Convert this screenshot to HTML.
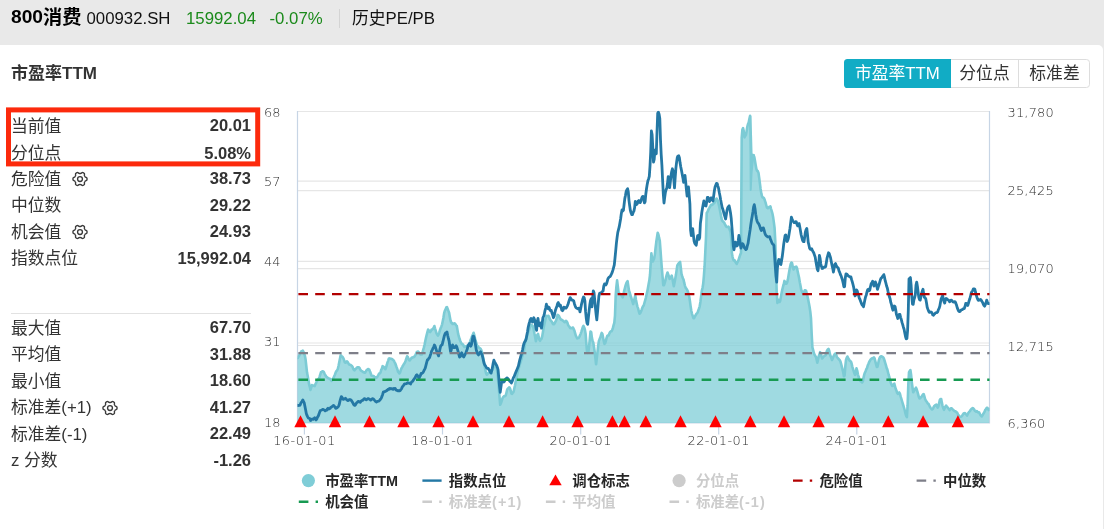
<!DOCTYPE html>
<html lang="zh-CN"><head><meta charset="utf-8"><title>800消费 历史PE/PB</title>
<style>
html,body{margin:0;padding:0}
body{width:1104px;height:529px;overflow:hidden;background:#e9e9e9;position:relative;font-family:"Liberation Sans","Noto Sans CJK SC",sans-serif;color:#333}
.hd{position:absolute;left:0;top:0;width:1104px;height:45px}
.hd span{position:absolute;white-space:nowrap;line-height:20px}
.t1{left:11px;top:7px;font-size:19.2px;font-weight:bold;color:#000}
.t2{left:86.5px;top:9px;font-size:16.8px;color:#111}
.t3{left:186px;top:9px;font-size:16.8px;color:#1b8a1b}
.t4{left:269.5px;top:9px;font-size:16.8px;color:#1b8a1b}
.cj{position:relative;top:1.4px;font-weight:bold}
.sep{position:absolute;left:339px;top:9px;width:1px;height:19px;background:#d4d4d4}
.t5{left:352px;top:9px;font-size:16.8px;color:#111}
.panel{position:absolute;left:-6px;top:44.8px;width:1109.4px;height:500px;background:#fff;border-radius:5px}
.title{position:absolute;left:11px;top:62.8px;font-size:17px;font-weight:bold;line-height:22px;color:#333;white-space:nowrap}
.btns{position:absolute;left:844px;top:59px;height:29px;width:245.6px;box-sizing:border-box;border:1.2px solid #ddd;border-radius:3.6px;background:#fff}
.btns span{position:absolute;top:-1.2px;height:29px;line-height:29.4px;font-size:16.8px;text-align:center;color:#333;white-space:nowrap}
.b1{left:-1.2px;width:107px;background:#11acc5;color:#fff!important;border-radius:3.6px 0 0 3.6px}
.b2{left:106px;width:68px;border-right:1.2px solid #ddd;box-sizing:border-box}
.b3{left:174px;width:71px}
.row{position:absolute;left:11px;width:240px;height:26.4px;line-height:26.4px;font-size:16.8px;white-space:nowrap}
.row .l{position:absolute;left:0;top:0;color:#333}
.row .v{position:absolute;right:0;top:-1.6px;font-weight:bold;color:#333;font-size:16.5px}
.gear{display:inline-block;vertical-align:-2.5px;margin-left:10.5px}
.hr{position:absolute;left:11px;top:313px;width:240px;height:1px;background:#e2e2e2}
.redbox{position:absolute;left:6px;top:107.4px;width:254.2px;height:59px;box-sizing:border-box;border:4.9px solid #fc2a0c}
</style></head><body>
<div class="hd"><span class="t1">800<b class="cj">消费</b></span><span class="t2">000932.SH</span><span class="t3">15992.04</span><span class="t4">-0.07%</span><i class="sep"></i><span class="t5">历史PE/PB</span></div>
<div class="panel"></div>
<div class="title">市盈率TTM</div>
<div class="btns"><span class="b1">市盈率TTM</span><span class="b2">分位点</span><span class="b3">标准差</span></div>
<div class="row" style="top:114.0px"><span class="l">当前值</span><span class="v">20.01</span></div><div class="row" style="top:141.4px"><span class="l">分位点</span><span class="v">5.08%</span></div><div class="row" style="top:166.9px"><span class="l">危险值<svg class="gear" viewBox="0 0 16 16" width="16" height="16"><g fill="none" stroke="#3a3a3a" stroke-width="1.35" stroke-linejoin="round"><path d="M15.05 8.00 L15.01 8.61 L14.81 9.20 L14.09 9.63 L13.34 9.94 L13.04 10.35 L12.81 10.77 L12.56 11.19 L12.35 11.65 L12.45 12.45 L12.45 13.30 L12.04 13.76 L11.53 14.11 L10.97 14.38 L10.37 14.50 L9.63 14.09 L8.99 13.60 L8.48 13.54 L8.00 13.55 L7.52 13.54 L7.01 13.60 L6.37 14.09 L5.63 14.50 L5.03 14.38 L4.48 14.11 L3.96 13.76 L3.55 13.30 L3.55 12.45 L3.65 11.65 L3.44 11.19 L3.19 10.78 L2.96 10.35 L2.66 9.94 L1.91 9.63 L1.19 9.20 L0.99 8.61 L0.95 8.00 L0.99 7.39 L1.19 6.80 L1.91 6.37 L2.66 6.06 L2.96 5.65 L3.19 5.22 L3.44 4.81 L3.65 4.35 L3.55 3.55 L3.55 2.70 L3.96 2.24 L4.47 1.89 L5.03 1.62 L5.63 1.50 L6.37 1.91 L7.01 2.40 L7.52 2.46 L8.00 2.45 L8.48 2.46 L8.99 2.40 L9.63 1.91 L10.37 1.50 L10.97 1.62 L11.52 1.89 L12.04 2.24 L12.45 2.70 L12.45 3.55 L12.35 4.35 L12.56 4.81 L12.81 5.23 L13.04 5.65 L13.34 6.06 L14.09 6.37 L14.81 6.80 L15.01 7.39Z"/><circle cx="8" cy="8" r="2.45"/></g></svg></span><span class="v">38.73</span></div><div class="row" style="top:193.3px"><span class="l">中位数</span><span class="v">29.22</span></div><div class="row" style="top:219.8px"><span class="l">机会值<svg class="gear" viewBox="0 0 16 16" width="16" height="16"><g fill="none" stroke="#3a3a3a" stroke-width="1.35" stroke-linejoin="round"><path d="M15.05 8.00 L15.01 8.61 L14.81 9.20 L14.09 9.63 L13.34 9.94 L13.04 10.35 L12.81 10.77 L12.56 11.19 L12.35 11.65 L12.45 12.45 L12.45 13.30 L12.04 13.76 L11.53 14.11 L10.97 14.38 L10.37 14.50 L9.63 14.09 L8.99 13.60 L8.48 13.54 L8.00 13.55 L7.52 13.54 L7.01 13.60 L6.37 14.09 L5.63 14.50 L5.03 14.38 L4.48 14.11 L3.96 13.76 L3.55 13.30 L3.55 12.45 L3.65 11.65 L3.44 11.19 L3.19 10.78 L2.96 10.35 L2.66 9.94 L1.91 9.63 L1.19 9.20 L0.99 8.61 L0.95 8.00 L0.99 7.39 L1.19 6.80 L1.91 6.37 L2.66 6.06 L2.96 5.65 L3.19 5.22 L3.44 4.81 L3.65 4.35 L3.55 3.55 L3.55 2.70 L3.96 2.24 L4.47 1.89 L5.03 1.62 L5.63 1.50 L6.37 1.91 L7.01 2.40 L7.52 2.46 L8.00 2.45 L8.48 2.46 L8.99 2.40 L9.63 1.91 L10.37 1.50 L10.97 1.62 L11.52 1.89 L12.04 2.24 L12.45 2.70 L12.45 3.55 L12.35 4.35 L12.56 4.81 L12.81 5.23 L13.04 5.65 L13.34 6.06 L14.09 6.37 L14.81 6.80 L15.01 7.39Z"/><circle cx="8" cy="8" r="2.45"/></g></svg></span><span class="v">24.93</span></div><div class="row" style="top:246.2px"><span class="l">指数点位</span><span class="v">15,992.04</span></div><div class="hr"></div><div class="row" style="top:315.9px"><span class="l">最大值</span><span class="v">67.70</span></div><div class="row" style="top:342.3px"><span class="l">平均值</span><span class="v">31.88</span></div><div class="row" style="top:368.8px"><span class="l">最小值</span><span class="v">18.60</span></div><div class="row" style="top:395.2px"><span class="l">标准差(+1)<svg class="gear" viewBox="0 0 16 16" width="16" height="16"><g fill="none" stroke="#3a3a3a" stroke-width="1.35" stroke-linejoin="round"><path d="M15.05 8.00 L15.01 8.61 L14.81 9.20 L14.09 9.63 L13.34 9.94 L13.04 10.35 L12.81 10.77 L12.56 11.19 L12.35 11.65 L12.45 12.45 L12.45 13.30 L12.04 13.76 L11.53 14.11 L10.97 14.38 L10.37 14.50 L9.63 14.09 L8.99 13.60 L8.48 13.54 L8.00 13.55 L7.52 13.54 L7.01 13.60 L6.37 14.09 L5.63 14.50 L5.03 14.38 L4.48 14.11 L3.96 13.76 L3.55 13.30 L3.55 12.45 L3.65 11.65 L3.44 11.19 L3.19 10.78 L2.96 10.35 L2.66 9.94 L1.91 9.63 L1.19 9.20 L0.99 8.61 L0.95 8.00 L0.99 7.39 L1.19 6.80 L1.91 6.37 L2.66 6.06 L2.96 5.65 L3.19 5.22 L3.44 4.81 L3.65 4.35 L3.55 3.55 L3.55 2.70 L3.96 2.24 L4.47 1.89 L5.03 1.62 L5.63 1.50 L6.37 1.91 L7.01 2.40 L7.52 2.46 L8.00 2.45 L8.48 2.46 L8.99 2.40 L9.63 1.91 L10.37 1.50 L10.97 1.62 L11.52 1.89 L12.04 2.24 L12.45 2.70 L12.45 3.55 L12.35 4.35 L12.56 4.81 L12.81 5.23 L13.04 5.65 L13.34 6.06 L14.09 6.37 L14.81 6.80 L15.01 7.39Z"/><circle cx="8" cy="8" r="2.45"/></g></svg></span><span class="v">41.27</span></div><div class="row" style="top:421.7px"><span class="l">标准差(-1)</span><span class="v">22.49</span></div><div class="row" style="top:448.1px"><span class="l">z 分数</span><span class="v">-1.26</span></div>
<svg width="1104" height="529" viewBox="0 0 1104 529" style="position:absolute;left:0;top:0">
<path d="M297.5 181.1 H989.5" stroke="#e6e6e6" stroke-width="1.2" fill="none"/>
<path d="M297.5 261.4 H989.5" stroke="#e6e6e6" stroke-width="1.2" fill="none"/>
<path d="M297.5 343.0 H989.5" stroke="#e6e6e6" stroke-width="1.2" fill="none"/>
<path d="M297.5 190.6 H989.5" stroke="#e6e6e6" stroke-width="1.2" fill="none"/>
<path d="M297.5 268.6 H989.5" stroke="#e6e6e6" stroke-width="1.2" fill="none"/>
<path d="M297.5 345.5 H989.5" stroke="#e6e6e6" stroke-width="1.2" fill="none"/>
<path d="M297.5 111.5 H989.5" stroke="#e6e6e6" stroke-width="1.2" fill="none"/>
<path d="M297.5 111.0 V423.0 H989.5 V111.0" stroke="#c7d5e5" stroke-width="1.2" fill="none"/>
<path d="M304.4 423 V434.5" stroke="#c7d5e5" stroke-width="1.2"/>
<path d="M442.5 423 V434.5" stroke="#c7d5e5" stroke-width="1.2"/>
<path d="M580.7 423 V434.5" stroke="#c7d5e5" stroke-width="1.2"/>
<path d="M718.7 423 V434.5" stroke="#c7d5e5" stroke-width="1.2"/>
<path d="M856.8 423 V434.5" stroke="#c7d5e5" stroke-width="1.2"/>
<clipPath id="cp"><rect x="297.5" y="110.5" width="692.0" height="312.5"/></clipPath>
<g clip-path="url(#cp)">
<path d="M297.2 357.9 L297.9 357.9 L298.6 356.4 L299.3 355.5 L300.0 353.4 L300.7 352.5 L301.4 351.2 L302.1 351.1 L302.8 350.7 L303.5 351.9 L304.2 353.9 L304.9 355.7 L305.6 359.6 L306.3 366.0 L307.0 372.3 L307.7 375.9 L308.4 380.0 L309.1 384.2 L309.8 386.8 L310.5 389.9 L311.2 387.6 L311.9 385.0 L312.6 385.9 L313.3 385.6 L314.0 385.8 L314.7 386.1 L315.4 384.2 L316.1 383.0 L316.8 381.1 L317.5 380.3 L318.2 379.4 L318.9 378.5 L319.6 376.6 L320.3 374.3 L321.0 372.2 L321.7 371.8 L322.4 371.3 L323.1 371.3 L323.8 372.0 L324.5 373.6 L325.2 374.8 L325.9 376.1 L326.6 377.0 L327.3 377.4 L328.0 378.2 L328.7 378.3 L329.4 378.8 L330.1 378.7 L330.8 379.8 L331.5 380.9 L332.2 380.2 L332.9 378.7 L333.6 377.7 L334.3 376.0 L335.0 374.5 L335.7 372.4 L336.4 371.1 L337.1 370.3 L337.8 369.0 L338.5 366.0 L339.2 362.6 L339.9 358.9 L340.6 355.4 L341.3 355.6 L342.0 356.7 L342.7 357.0 L343.4 358.3 L344.1 360.1 L344.8 362.4 L345.5 362.7 L346.2 362.2 L346.9 361.3 L347.6 362.0 L348.3 363.1 L349.0 364.4 L349.7 364.8 L350.4 364.8 L351.1 365.3 L351.8 365.9 L352.5 366.8 L353.2 368.6 L353.9 370.0 L354.6 370.3 L355.3 369.3 L356.0 368.6 L356.7 367.8 L357.4 367.3 L358.1 367.3 L358.8 367.3 L359.5 367.9 L360.2 369.3 L360.9 370.5 L361.6 371.2 L362.3 371.2 L363.0 372.0 L363.7 372.3 L364.4 372.7 L365.1 372.6 L365.8 371.4 L366.5 370.3 L367.2 369.8 L367.9 369.0 L368.6 369.3 L369.3 369.6 L370.0 371.6 L370.7 373.2 L371.4 375.5 L372.1 375.7 L372.8 375.9 L373.5 376.0 L374.2 376.6 L374.9 377.3 L375.6 377.3 L376.3 377.8 L377.0 377.2 L377.7 376.1 L378.4 374.9 L379.1 373.6 L379.8 373.5 L380.5 372.5 L381.2 369.9 L381.9 368.6 L382.6 366.2 L383.3 366.4 L384.0 367.5 L384.7 368.2 L385.4 369.2 L386.1 367.2 L386.8 365.0 L387.5 362.4 L388.2 360.6 L388.9 358.5 L389.6 358.4 L390.3 358.6 L391.0 358.7 L391.7 359.0 L392.4 359.3 L393.1 360.0 L393.8 360.5 L394.5 362.0 L395.2 363.3 L395.9 365.3 L396.6 367.3 L397.3 369.0 L398.0 371.6 L398.7 372.5 L399.4 373.4 L400.1 372.5 L400.8 369.9 L401.5 368.2 L402.2 367.1 L402.9 365.7 L403.6 364.6 L404.3 363.6 L405.0 362.4 L405.7 360.5 L406.4 358.4 L407.1 356.3 L407.8 357.0 L408.5 358.7 L409.2 360.2 L409.9 360.4 L410.6 359.2 L411.3 358.2 L412.0 357.5 L412.7 357.7 L413.4 357.0 L414.1 357.0 L414.8 356.1 L415.5 355.0 L416.2 353.3 L416.9 351.9 L417.6 351.6 L418.3 351.6 L419.0 352.7 L419.7 353.4 L420.4 354.6 L421.1 354.3 L421.8 354.6 L422.5 352.6 L423.2 349.8 L423.9 347.4 L424.6 344.5 L425.3 341.0 L426.0 337.8 L426.7 334.8 L427.4 332.2 L428.1 329.6 L428.8 330.3 L429.5 331.4 L430.2 332.0 L430.9 331.0 L431.6 329.6 L432.3 329.4 L433.0 328.8 L433.7 327.7 L434.4 326.0 L435.1 328.6 L435.8 330.9 L436.5 333.3 L437.2 334.5 L437.9 335.6 L438.6 334.6 L439.3 332.4 L440.0 330.0 L440.7 328.1 L441.4 326.4 L442.1 324.3 L442.8 320.9 L443.5 317.2 L444.2 312.9 L444.9 310.7 L445.6 309.4 L446.3 307.5 L447.0 307.1 L447.7 309.0 L448.4 310.9 L449.1 312.8 L449.8 316.7 L450.5 320.5 L451.2 322.5 L451.9 322.9 L452.6 324.0 L453.3 323.9 L454.0 323.5 L454.7 323.4 L455.4 324.2 L456.1 325.3 L456.8 326.0 L457.5 330.1 L458.2 334.2 L458.9 336.6 L459.6 339.0 L460.3 341.0 L461.0 342.5 L461.7 344.0 L462.4 344.1 L463.1 344.7 L463.8 346.1 L464.5 347.0 L465.2 346.5 L465.9 347.0 L466.6 345.9 L467.3 346.1 L468.0 345.9 L468.7 345.8 L469.4 343.6 L470.1 341.7 L470.8 339.4 L471.5 337.8 L472.2 336.0 L472.9 334.7 L473.6 332.8 L474.3 335.2 L475.0 338.3 L475.7 341.0 L476.4 343.3 L477.1 345.6 L477.8 346.2 L478.5 347.1 L479.2 347.8 L479.9 348.3 L480.6 348.8 L481.3 350.2 L482.0 352.1 L482.7 355.2 L483.4 358.9 L484.1 362.7 L484.8 367.2 L485.5 370.5 L486.2 373.6 L486.9 374.7 L487.6 374.0 L488.3 373.2 L489.0 372.5 L489.7 372.3 L490.4 371.7 L491.1 371.4 L491.8 370.2 L492.5 369.7 L493.2 368.4 L493.9 366.9 L494.6 365.3 L495.3 365.8 L496.0 366.9 L496.7 368.1 L497.4 372.7 L498.1 380.0 L498.8 387.9 L499.5 396.5 L500.2 404.8 L500.9 403.2 L501.6 401.2 L502.3 398.8 L503.0 397.3 L503.7 396.5 L504.4 396.1 L505.1 396.1 L505.8 395.4 L506.5 392.5 L507.2 389.5 L507.9 388.6 L508.6 387.9 L509.3 387.3 L510.0 388.4 L510.7 390.6 L511.4 393.5 L512.1 393.9 L512.8 392.7 L513.5 392.0 L514.2 388.9 L514.9 385.8 L515.6 382.0 L516.3 378.6 L517.0 375.2 L517.7 372.1 L518.4 369.4 L519.1 366.8 L519.8 364.3 L520.5 362.3 L521.2 360.1 L521.9 357.5 L522.6 354.9 L523.3 352.6 L524.0 350.5 L524.7 345.7 L525.4 340.4 L526.1 338.3 L526.8 336.7 L527.5 334.8 L528.2 332.1 L528.9 330.6 L529.6 328.2 L530.3 326.4 L531.0 324.8 L531.7 325.1 L532.4 325.7 L533.1 326.5 L533.8 329.9 L534.5 333.8 L535.2 337.2 L535.9 341.3 L536.6 338.5 L537.3 335.0 L538.0 333.9 L538.7 336.9 L539.4 339.8 L540.1 340.8 L540.8 339.3 L541.5 338.8 L542.2 336.4 L542.9 332.3 L543.6 327.9 L544.3 324.6 L545.0 321.2 L545.7 318.2 L546.4 315.9 L547.1 316.1 L547.8 315.9 L548.5 315.7 L549.2 317.2 L549.9 319.2 L550.6 320.2 L551.3 321.1 L552.0 321.9 L552.7 323.6 L553.4 324.3 L554.1 324.2 L554.8 323.0 L555.5 321.7 L556.2 320.0 L556.9 317.9 L557.6 314.9 L558.3 315.2 L559.0 316.1 L559.7 317.7 L560.4 318.9 L561.1 319.8 L561.8 319.8 L562.5 320.4 L563.2 320.8 L563.9 321.4 L564.6 322.3 L565.3 322.1 L566.0 320.8 L566.7 321.4 L567.4 322.6 L568.1 325.0 L568.8 326.0 L569.5 326.8 L570.2 328.1 L570.9 328.3 L571.6 328.0 L572.3 327.8 L573.0 327.5 L573.7 329.2 L574.4 330.6 L575.1 333.2 L575.8 335.6 L576.5 337.0 L577.2 338.4 L577.9 338.0 L578.6 338.0 L579.3 336.8 L580.0 335.4 L580.7 333.6 L581.4 331.6 L582.1 329.4 L582.8 327.2 L583.5 325.9 L584.2 327.5 L584.9 329.6 L585.6 333.6 L586.3 343.0 L587.0 351.3 L587.7 352.9 L588.4 352.0 L589.1 346.0 L589.8 339.4 L590.5 331.6 L591.2 332.1 L591.9 337.8 L592.6 340.9 L593.3 342.6 L594.0 347.2 L594.7 352.0 L595.4 358.0 L596.1 364.3 L596.8 358.0 L597.5 352.1 L598.2 345.6 L598.9 340.9 L599.6 339.1 L600.3 337.5 L601.0 335.0 L601.7 332.9 L602.4 334.0 L603.1 337.7 L603.8 341.2 L604.5 343.8 L605.2 343.1 L605.9 340.6 L606.6 337.9 L607.3 335.8 L608.0 335.4 L608.7 335.4 L609.4 333.4 L610.1 332.0 L610.8 331.4 L611.5 331.3 L612.2 330.0 L612.9 327.9 L613.6 325.2 L614.3 322.9 L615.0 315.5 L615.7 295.4 L616.4 286.7 L617.1 280.3 L617.8 286.1 L618.5 292.2 L619.2 293.5 L619.9 294.0 L620.6 294.1 L621.3 295.3 L622.0 296.0 L622.7 297.4 L623.4 294.9 L624.1 291.2 L624.8 288.5 L625.5 285.7 L626.2 283.6 L626.9 282.0 L627.6 281.2 L628.3 285.9 L629.0 290.6 L629.7 292.4 L630.4 295.2 L631.1 297.2 L631.8 299.6 L632.5 301.7 L633.2 304.1 L633.9 301.3 L634.6 298.4 L635.3 295.6 L636.0 299.9 L636.7 303.4 L637.4 306.6 L638.1 308.4 L638.8 311.2 L639.5 313.7 L640.2 313.3 L640.9 311.8 L641.6 310.0 L642.3 307.8 L643.0 306.4 L643.7 305.5 L644.4 303.0 L645.1 300.5 L645.8 298.0 L646.5 294.7 L647.2 291.9 L647.9 288.2 L648.6 284.3 L649.3 280.6 L650.0 275.0 L650.7 263.7 L651.4 253.4 L652.1 258.8 L652.8 261.5 L653.5 259.8 L654.2 258.4 L654.9 254.1 L655.6 247.6 L656.3 241.8 L657.0 237.1 L657.7 232.7 L658.4 234.4 L659.1 237.9 L659.8 240.9 L660.5 250.1 L661.2 260.1 L661.9 269.1 L662.6 277.2 L663.3 285.2 L664.0 285.2 L664.7 282.8 L665.4 280.4 L666.1 277.2 L666.8 274.6 L667.5 272.5 L668.2 274.4 L668.9 276.4 L669.6 278.9 L670.3 278.1 L671.0 277.2 L671.7 275.6 L672.4 278.6 L673.1 282.5 L673.8 286.3 L674.5 282.8 L675.2 278.9 L675.9 275.1 L676.6 270.4 L677.3 265.5 L678.0 264.3 L678.7 263.4 L679.4 262.6 L680.1 261.9 L680.8 267.6 L681.5 274.0 L682.2 276.2 L682.9 278.2 L683.6 279.8 L684.3 283.2 L685.0 285.8 L685.7 287.9 L686.4 288.7 L687.1 289.9 L687.8 291.4 L688.5 293.8 L689.2 296.5 L689.9 300.9 L690.6 306.1 L691.3 310.7 L692.0 313.8 L692.7 315.9 L693.4 318.1 L694.1 318.2 L694.8 316.6 L695.5 315.6 L696.2 314.2 L696.9 313.4 L697.6 312.7 L698.3 310.4 L699.0 308.5 L699.7 306.3 L700.4 302.0 L701.1 296.3 L701.8 290.9 L702.5 288.0 L703.2 283.8 L703.9 275.8 L704.6 266.2 L705.3 251.9 L706.0 237.3 L706.7 213.0 L707.4 212.0 L708.1 210.4 L708.8 208.9 L709.5 207.7 L710.2 206.4 L710.9 205.0 L711.6 204.6 L712.3 204.9 L713.0 204.1 L713.7 203.4 L714.4 202.8 L715.1 201.5 L715.8 199.8 L716.5 198.5 L717.2 199.4 L717.9 201.1 L718.6 203.8 L719.3 206.9 L720.0 210.5 L720.7 214.1 L721.4 218.1 L722.1 220.5 L722.8 221.3 L723.5 221.9 L724.2 222.6 L724.9 224.1 L725.6 225.5 L726.3 226.7 L727.0 226.9 L727.7 227.1 L728.4 226.7 L729.1 227.5 L729.8 230.1 L730.5 231.7 L731.2 237.8 L731.9 253.2 L732.6 257.1 L733.3 259.6 L734.0 260.5 L734.7 260.4 L735.4 261.9 L736.1 263.1 L736.8 263.9 L737.5 262.1 L738.2 260.9 L738.9 258.8 L739.6 256.6 L740.3 254.6 L741.0 252.9 L741.7 137.5 L742.4 129.6 L743.1 128.2 L743.8 131.2 L744.5 137.4 L745.2 136.0 L745.9 134.9 L746.6 131.2 L747.3 126.8 L748.0 124.0 L748.7 122.5 L749.4 118.7 L750.1 115.8 L750.8 136.1 L751.5 161.9 L752.2 159.3 L752.9 155.1 L753.6 155.3 L754.3 156.9 L755.0 161.0 L755.7 165.2 L756.4 169.0 L757.1 170.9 L757.8 171.1 L758.5 172.9 L759.2 177.9 L759.9 183.4 L760.6 189.0 L761.3 193.4 L762.0 196.3 L762.7 197.5 L763.4 197.6 L764.1 198.4 L764.8 200.3 L765.5 202.4 L766.2 205.0 L766.9 207.5 L767.6 208.2 L768.3 208.1 L769.0 207.1 L769.7 206.7 L770.4 206.4 L771.1 209.1 L771.8 211.3 L772.5 213.9 L773.2 217.6 L773.9 222.6 L774.6 228.2 L775.3 241.6 L776.0 266.7 L776.7 292.0 L777.4 303.0 L778.1 299.5 L778.8 300.5 L779.5 302.0 L780.2 300.8 L780.9 296.7 L781.6 293.1 L782.3 289.6 L783.0 286.7 L783.7 284.4 L784.4 280.9 L785.1 282.4 L785.8 283.8 L786.5 283.7 L787.2 282.3 L787.9 279.4 L788.6 275.1 L789.3 270.9 L790.0 267.3 L790.7 264.1 L791.4 262.5 L792.1 263.2 L792.8 267.0 L793.5 269.4 L794.2 268.4 L794.9 267.0 L795.6 267.3 L796.3 266.7 L797.0 268.0 L797.7 271.5 L798.4 274.8 L799.1 277.9 L799.8 282.3 L800.5 285.7 L801.2 289.7 L801.9 291.5 L802.6 293.4 L803.3 293.8 L804.0 292.1 L804.7 290.4 L805.4 290.4 L806.1 290.9 L806.8 293.8 L807.5 296.4 L808.2 299.8 L808.9 303.3 L809.6 307.0 L810.3 311.6 L811.0 318.4 L811.7 334.4 L812.4 347.4 L813.1 349.9 L813.8 352.7 L814.5 354.6 L815.2 355.7 L815.9 356.7 L816.6 359.5 L817.3 362.7 L818.0 359.7 L818.7 356.4 L819.4 354.3 L820.1 352.2 L820.8 353.4 L821.5 356.5 L822.2 358.5 L822.9 357.7 L823.6 356.5 L824.3 356.0 L825.0 355.6 L825.7 355.1 L826.4 352.6 L827.1 350.5 L827.8 349.5 L828.5 348.8 L829.2 350.6 L829.9 353.9 L830.6 356.3 L831.3 357.8 L832.0 360.0 L832.7 358.7 L833.4 356.6 L834.1 355.1 L834.8 354.0 L835.5 353.3 L836.2 354.8 L836.9 357.0 L837.6 357.8 L838.3 358.6 L839.0 359.5 L839.7 360.1 L840.4 361.4 L841.1 363.9 L841.8 366.6 L842.5 369.4 L843.2 372.2 L843.9 376.3 L844.6 375.6 L845.3 366.4 L846.0 360.0 L846.7 357.9 L847.4 356.5 L848.1 357.9 L848.8 359.1 L849.5 360.4 L850.2 361.0 L850.9 361.5 L851.6 363.5 L852.3 366.6 L853.0 369.0 L853.7 371.2 L854.4 373.4 L855.1 374.9 L855.8 372.8 L856.5 368.3 L857.2 370.6 L857.9 374.3 L858.6 376.8 L859.3 378.8 L860.0 380.5 L860.7 381.3 L861.4 381.8 L862.1 382.4 L862.8 381.5 L863.5 377.8 L864.2 374.7 L864.9 372.6 L865.6 371.4 L866.3 369.2 L867.0 368.1 L867.7 365.6 L868.4 364.0 L869.1 362.2 L869.8 361.0 L870.5 359.6 L871.2 358.9 L871.9 358.5 L872.6 358.1 L873.3 358.3 L874.0 357.5 L874.7 358.7 L875.4 361.6 L876.1 364.4 L876.8 367.0 L877.5 366.8 L878.2 363.4 L878.9 360.1 L879.6 358.0 L880.3 356.7 L881.0 356.2 L881.7 356.5 L882.4 356.9 L883.1 357.4 L883.8 358.3 L884.5 360.5 L885.2 362.8 L885.9 365.1 L886.6 367.9 L887.3 369.4 L888.0 372.3 L888.7 375.0 L889.4 377.2 L890.1 380.4 L890.8 382.7 L891.5 384.5 L892.2 386.0 L892.9 385.7 L893.6 384.5 L894.3 383.6 L895.0 386.3 L895.7 388.8 L896.4 390.4 L897.1 392.8 L897.8 393.9 L898.5 393.1 L899.2 392.5 L899.9 393.7 L900.6 396.4 L901.3 398.6 L902.0 401.0 L902.7 403.3 L903.4 405.6 L904.1 408.0 L904.8 410.5 L905.5 413.6 L906.2 416.0 L906.9 417.1 L907.6 405.7 L908.3 384.5 L909.0 372.4 L909.7 371.0 L910.4 370.0 L911.1 374.7 L911.8 382.3 L912.5 387.5 L913.2 392.3 L913.9 391.2 L914.6 389.9 L915.3 388.8 L916.0 387.7 L916.7 389.3 L917.4 391.6 L918.1 394.1 L918.8 396.8 L919.5 398.4 L920.2 398.3 L920.9 397.3 L921.6 396.7 L922.3 395.5 L923.0 394.5 L923.7 394.1 L924.4 396.4 L925.1 399.0 L925.8 400.4 L926.5 401.4 L927.2 402.5 L927.9 403.6 L928.6 404.0 L929.3 405.5 L930.0 407.1 L930.7 408.1 L931.4 408.8 L932.1 409.5 L932.8 409.0 L933.5 407.4 L934.2 406.1 L934.9 405.6 L935.6 404.9 L936.3 404.6 L937.0 406.4 L937.7 407.7 L938.4 406.3 L939.1 403.2 L939.8 400.0 L940.5 399.0 L941.2 399.0 L941.9 402.9 L942.6 406.1 L943.3 408.2 L944.0 409.8 L944.7 408.2 L945.4 406.6 L946.1 405.5 L946.8 406.7 L947.5 407.3 L948.2 408.2 L948.9 409.1 L949.6 410.1 L950.3 408.9 L951.0 408.3 L951.7 408.3 L952.4 409.2 L953.1 409.8 L953.8 410.4 L954.5 411.1 L955.2 411.2 L955.9 411.6 L956.6 412.4 L957.3 412.9 L958.0 414.5 L958.7 415.4 L959.4 416.6 L960.1 416.8 L960.8 416.7 L961.5 416.4 L962.2 415.6 L962.9 414.6 L963.6 413.5 L964.3 413.2 L965.0 413.1 L965.7 413.9 L966.4 414.5 L967.1 415.6 L967.8 414.0 L968.5 412.7 L969.2 411.8 L969.9 411.3 L970.6 409.8 L971.3 409.1 L972.0 408.6 L972.7 408.1 L973.4 408.5 L974.1 409.3 L974.8 410.7 L975.5 411.2 L976.2 411.7 L976.9 411.1 L977.6 412.0 L978.3 412.5 L979.0 412.3 L979.7 413.4 L980.4 415.0 L981.1 415.8 L981.8 416.4 L982.5 415.3 L983.2 414.0 L983.9 412.8 L984.6 411.6 L985.3 409.8 L986.0 409.1 L986.7 407.8 L987.4 407.8 L988.1 409.3 L988.8 410.0 L989.2 409.0 L989.2 423.0 L297.2 423.0 Z" fill="#7fcdd7" fill-opacity="0.75" stroke="none"/>
<path d="M297.2 357.9 L297.9 357.9 L298.6 356.4 L299.3 355.5 L300.0 353.4 L300.7 352.5 L301.4 351.2 L302.1 351.1 L302.8 350.7 L303.5 351.9 L304.2 353.9 L304.9 355.7 L305.6 359.6 L306.3 366.0 L307.0 372.3 L307.7 375.9 L308.4 380.0 L309.1 384.2 L309.8 386.8 L310.5 389.9 L311.2 387.6 L311.9 385.0 L312.6 385.9 L313.3 385.6 L314.0 385.8 L314.7 386.1 L315.4 384.2 L316.1 383.0 L316.8 381.1 L317.5 380.3 L318.2 379.4 L318.9 378.5 L319.6 376.6 L320.3 374.3 L321.0 372.2 L321.7 371.8 L322.4 371.3 L323.1 371.3 L323.8 372.0 L324.5 373.6 L325.2 374.8 L325.9 376.1 L326.6 377.0 L327.3 377.4 L328.0 378.2 L328.7 378.3 L329.4 378.8 L330.1 378.7 L330.8 379.8 L331.5 380.9 L332.2 380.2 L332.9 378.7 L333.6 377.7 L334.3 376.0 L335.0 374.5 L335.7 372.4 L336.4 371.1 L337.1 370.3 L337.8 369.0 L338.5 366.0 L339.2 362.6 L339.9 358.9 L340.6 355.4 L341.3 355.6 L342.0 356.7 L342.7 357.0 L343.4 358.3 L344.1 360.1 L344.8 362.4 L345.5 362.7 L346.2 362.2 L346.9 361.3 L347.6 362.0 L348.3 363.1 L349.0 364.4 L349.7 364.8 L350.4 364.8 L351.1 365.3 L351.8 365.9 L352.5 366.8 L353.2 368.6 L353.9 370.0 L354.6 370.3 L355.3 369.3 L356.0 368.6 L356.7 367.8 L357.4 367.3 L358.1 367.3 L358.8 367.3 L359.5 367.9 L360.2 369.3 L360.9 370.5 L361.6 371.2 L362.3 371.2 L363.0 372.0 L363.7 372.3 L364.4 372.7 L365.1 372.6 L365.8 371.4 L366.5 370.3 L367.2 369.8 L367.9 369.0 L368.6 369.3 L369.3 369.6 L370.0 371.6 L370.7 373.2 L371.4 375.5 L372.1 375.7 L372.8 375.9 L373.5 376.0 L374.2 376.6 L374.9 377.3 L375.6 377.3 L376.3 377.8 L377.0 377.2 L377.7 376.1 L378.4 374.9 L379.1 373.6 L379.8 373.5 L380.5 372.5 L381.2 369.9 L381.9 368.6 L382.6 366.2 L383.3 366.4 L384.0 367.5 L384.7 368.2 L385.4 369.2 L386.1 367.2 L386.8 365.0 L387.5 362.4 L388.2 360.6 L388.9 358.5 L389.6 358.4 L390.3 358.6 L391.0 358.7 L391.7 359.0 L392.4 359.3 L393.1 360.0 L393.8 360.5 L394.5 362.0 L395.2 363.3 L395.9 365.3 L396.6 367.3 L397.3 369.0 L398.0 371.6 L398.7 372.5 L399.4 373.4 L400.1 372.5 L400.8 369.9 L401.5 368.2 L402.2 367.1 L402.9 365.7 L403.6 364.6 L404.3 363.6 L405.0 362.4 L405.7 360.5 L406.4 358.4 L407.1 356.3 L407.8 357.0 L408.5 358.7 L409.2 360.2 L409.9 360.4 L410.6 359.2 L411.3 358.2 L412.0 357.5 L412.7 357.7 L413.4 357.0 L414.1 357.0 L414.8 356.1 L415.5 355.0 L416.2 353.3 L416.9 351.9 L417.6 351.6 L418.3 351.6 L419.0 352.7 L419.7 353.4 L420.4 354.6 L421.1 354.3 L421.8 354.6 L422.5 352.6 L423.2 349.8 L423.9 347.4 L424.6 344.5 L425.3 341.0 L426.0 337.8 L426.7 334.8 L427.4 332.2 L428.1 329.6 L428.8 330.3 L429.5 331.4 L430.2 332.0 L430.9 331.0 L431.6 329.6 L432.3 329.4 L433.0 328.8 L433.7 327.7 L434.4 326.0 L435.1 328.6 L435.8 330.9 L436.5 333.3 L437.2 334.5 L437.9 335.6 L438.6 334.6 L439.3 332.4 L440.0 330.0 L440.7 328.1 L441.4 326.4 L442.1 324.3 L442.8 320.9 L443.5 317.2 L444.2 312.9 L444.9 310.7 L445.6 309.4 L446.3 307.5 L447.0 307.1 L447.7 309.0 L448.4 310.9 L449.1 312.8 L449.8 316.7 L450.5 320.5 L451.2 322.5 L451.9 322.9 L452.6 324.0 L453.3 323.9 L454.0 323.5 L454.7 323.4 L455.4 324.2 L456.1 325.3 L456.8 326.0 L457.5 330.1 L458.2 334.2 L458.9 336.6 L459.6 339.0 L460.3 341.0 L461.0 342.5 L461.7 344.0 L462.4 344.1 L463.1 344.7 L463.8 346.1 L464.5 347.0 L465.2 346.5 L465.9 347.0 L466.6 345.9 L467.3 346.1 L468.0 345.9 L468.7 345.8 L469.4 343.6 L470.1 341.7 L470.8 339.4 L471.5 337.8 L472.2 336.0 L472.9 334.7 L473.6 332.8 L474.3 335.2 L475.0 338.3 L475.7 341.0 L476.4 343.3 L477.1 345.6 L477.8 346.2 L478.5 347.1 L479.2 347.8 L479.9 348.3 L480.6 348.8 L481.3 350.2 L482.0 352.1 L482.7 355.2 L483.4 358.9 L484.1 362.7 L484.8 367.2 L485.5 370.5 L486.2 373.6 L486.9 374.7 L487.6 374.0 L488.3 373.2 L489.0 372.5 L489.7 372.3 L490.4 371.7 L491.1 371.4 L491.8 370.2 L492.5 369.7 L493.2 368.4 L493.9 366.9 L494.6 365.3 L495.3 365.8 L496.0 366.9 L496.7 368.1 L497.4 372.7 L498.1 380.0 L498.8 387.9 L499.5 396.5 L500.2 404.8 L500.9 403.2 L501.6 401.2 L502.3 398.8 L503.0 397.3 L503.7 396.5 L504.4 396.1 L505.1 396.1 L505.8 395.4 L506.5 392.5 L507.2 389.5 L507.9 388.6 L508.6 387.9 L509.3 387.3 L510.0 388.4 L510.7 390.6 L511.4 393.5 L512.1 393.9 L512.8 392.7 L513.5 392.0 L514.2 388.9 L514.9 385.8 L515.6 382.0 L516.3 378.6 L517.0 375.2 L517.7 372.1 L518.4 369.4 L519.1 366.8 L519.8 364.3 L520.5 362.3 L521.2 360.1 L521.9 357.5 L522.6 354.9 L523.3 352.6 L524.0 350.5 L524.7 345.7 L525.4 340.4 L526.1 338.3 L526.8 336.7 L527.5 334.8 L528.2 332.1 L528.9 330.6 L529.6 328.2 L530.3 326.4 L531.0 324.8 L531.7 325.1 L532.4 325.7 L533.1 326.5 L533.8 329.9 L534.5 333.8 L535.2 337.2 L535.9 341.3 L536.6 338.5 L537.3 335.0 L538.0 333.9 L538.7 336.9 L539.4 339.8 L540.1 340.8 L540.8 339.3 L541.5 338.8 L542.2 336.4 L542.9 332.3 L543.6 327.9 L544.3 324.6 L545.0 321.2 L545.7 318.2 L546.4 315.9 L547.1 316.1 L547.8 315.9 L548.5 315.7 L549.2 317.2 L549.9 319.2 L550.6 320.2 L551.3 321.1 L552.0 321.9 L552.7 323.6 L553.4 324.3 L554.1 324.2 L554.8 323.0 L555.5 321.7 L556.2 320.0 L556.9 317.9 L557.6 314.9 L558.3 315.2 L559.0 316.1 L559.7 317.7 L560.4 318.9 L561.1 319.8 L561.8 319.8 L562.5 320.4 L563.2 320.8 L563.9 321.4 L564.6 322.3 L565.3 322.1 L566.0 320.8 L566.7 321.4 L567.4 322.6 L568.1 325.0 L568.8 326.0 L569.5 326.8 L570.2 328.1 L570.9 328.3 L571.6 328.0 L572.3 327.8 L573.0 327.5 L573.7 329.2 L574.4 330.6 L575.1 333.2 L575.8 335.6 L576.5 337.0 L577.2 338.4 L577.9 338.0 L578.6 338.0 L579.3 336.8 L580.0 335.4 L580.7 333.6 L581.4 331.6 L582.1 329.4 L582.8 327.2 L583.5 325.9 L584.2 327.5 L584.9 329.6 L585.6 333.6 L586.3 343.0 L587.0 351.3 L587.7 352.9 L588.4 352.0 L589.1 346.0 L589.8 339.4 L590.5 331.6 L591.2 332.1 L591.9 337.8 L592.6 340.9 L593.3 342.6 L594.0 347.2 L594.7 352.0 L595.4 358.0 L596.1 364.3 L596.8 358.0 L597.5 352.1 L598.2 345.6 L598.9 340.9 L599.6 339.1 L600.3 337.5 L601.0 335.0 L601.7 332.9 L602.4 334.0 L603.1 337.7 L603.8 341.2 L604.5 343.8 L605.2 343.1 L605.9 340.6 L606.6 337.9 L607.3 335.8 L608.0 335.4 L608.7 335.4 L609.4 333.4 L610.1 332.0 L610.8 331.4 L611.5 331.3 L612.2 330.0 L612.9 327.9 L613.6 325.2 L614.3 322.9 L615.0 315.5 L615.7 295.4 L616.4 286.7 L617.1 280.3 L617.8 286.1 L618.5 292.2 L619.2 293.5 L619.9 294.0 L620.6 294.1 L621.3 295.3 L622.0 296.0 L622.7 297.4 L623.4 294.9 L624.1 291.2 L624.8 288.5 L625.5 285.7 L626.2 283.6 L626.9 282.0 L627.6 281.2 L628.3 285.9 L629.0 290.6 L629.7 292.4 L630.4 295.2 L631.1 297.2 L631.8 299.6 L632.5 301.7 L633.2 304.1 L633.9 301.3 L634.6 298.4 L635.3 295.6 L636.0 299.9 L636.7 303.4 L637.4 306.6 L638.1 308.4 L638.8 311.2 L639.5 313.7 L640.2 313.3 L640.9 311.8 L641.6 310.0 L642.3 307.8 L643.0 306.4 L643.7 305.5 L644.4 303.0 L645.1 300.5 L645.8 298.0 L646.5 294.7 L647.2 291.9 L647.9 288.2 L648.6 284.3 L649.3 280.6 L650.0 275.0 L650.7 263.7 L651.4 253.4 L652.1 258.8 L652.8 261.5 L653.5 259.8 L654.2 258.4 L654.9 254.1 L655.6 247.6 L656.3 241.8 L657.0 237.1 L657.7 232.7 L658.4 234.4 L659.1 237.9 L659.8 240.9 L660.5 250.1 L661.2 260.1 L661.9 269.1 L662.6 277.2 L663.3 285.2 L664.0 285.2 L664.7 282.8 L665.4 280.4 L666.1 277.2 L666.8 274.6 L667.5 272.5 L668.2 274.4 L668.9 276.4 L669.6 278.9 L670.3 278.1 L671.0 277.2 L671.7 275.6 L672.4 278.6 L673.1 282.5 L673.8 286.3 L674.5 282.8 L675.2 278.9 L675.9 275.1 L676.6 270.4 L677.3 265.5 L678.0 264.3 L678.7 263.4 L679.4 262.6 L680.1 261.9 L680.8 267.6 L681.5 274.0 L682.2 276.2 L682.9 278.2 L683.6 279.8 L684.3 283.2 L685.0 285.8 L685.7 287.9 L686.4 288.7 L687.1 289.9 L687.8 291.4 L688.5 293.8 L689.2 296.5 L689.9 300.9 L690.6 306.1 L691.3 310.7 L692.0 313.8 L692.7 315.9 L693.4 318.1 L694.1 318.2 L694.8 316.6 L695.5 315.6 L696.2 314.2 L696.9 313.4 L697.6 312.7 L698.3 310.4 L699.0 308.5 L699.7 306.3 L700.4 302.0 L701.1 296.3 L701.8 290.9 L702.5 288.0 L703.2 283.8 L703.9 275.8 L704.6 266.2 L705.3 251.9 L706.0 237.3 L706.7 213.0 L707.4 212.0 L708.1 210.4 L708.8 208.9 L709.5 207.7 L710.2 206.4 L710.9 205.0 L711.6 204.6 L712.3 204.9 L713.0 204.1 L713.7 203.4 L714.4 202.8 L715.1 201.5 L715.8 199.8 L716.5 198.5 L717.2 199.4 L717.9 201.1 L718.6 203.8 L719.3 206.9 L720.0 210.5 L720.7 214.1 L721.4 218.1 L722.1 220.5 L722.8 221.3 L723.5 221.9 L724.2 222.6 L724.9 224.1 L725.6 225.5 L726.3 226.7 L727.0 226.9 L727.7 227.1 L728.4 226.7 L729.1 227.5 L729.8 230.1 L730.5 231.7 L731.2 237.8 L731.9 253.2 L732.6 257.1 L733.3 259.6 L734.0 260.5 L734.7 260.4 L735.4 261.9 L736.1 263.1 L736.8 263.9 L737.5 262.1 L738.2 260.9 L738.9 258.8 L739.6 256.6 L740.3 254.6 L741.0 252.9 L741.7 137.5 L742.4 129.6 L743.1 128.2 L743.8 131.2 L744.5 137.4 L745.2 136.0 L745.9 134.9 L746.6 131.2 L747.3 126.8 L748.0 124.0 L748.7 122.5 L749.4 118.7 L750.1 115.8 L750.8 136.1 L751.5 161.9 L752.2 159.3 L752.9 155.1 L753.6 155.3 L754.3 156.9 L755.0 161.0 L755.7 165.2 L756.4 169.0 L757.1 170.9 L757.8 171.1 L758.5 172.9 L759.2 177.9 L759.9 183.4 L760.6 189.0 L761.3 193.4 L762.0 196.3 L762.7 197.5 L763.4 197.6 L764.1 198.4 L764.8 200.3 L765.5 202.4 L766.2 205.0 L766.9 207.5 L767.6 208.2 L768.3 208.1 L769.0 207.1 L769.7 206.7 L770.4 206.4 L771.1 209.1 L771.8 211.3 L772.5 213.9 L773.2 217.6 L773.9 222.6 L774.6 228.2 L775.3 241.6 L776.0 266.7 L776.7 292.0 L777.4 303.0 L778.1 299.5 L778.8 300.5 L779.5 302.0 L780.2 300.8 L780.9 296.7 L781.6 293.1 L782.3 289.6 L783.0 286.7 L783.7 284.4 L784.4 280.9 L785.1 282.4 L785.8 283.8 L786.5 283.7 L787.2 282.3 L787.9 279.4 L788.6 275.1 L789.3 270.9 L790.0 267.3 L790.7 264.1 L791.4 262.5 L792.1 263.2 L792.8 267.0 L793.5 269.4 L794.2 268.4 L794.9 267.0 L795.6 267.3 L796.3 266.7 L797.0 268.0 L797.7 271.5 L798.4 274.8 L799.1 277.9 L799.8 282.3 L800.5 285.7 L801.2 289.7 L801.9 291.5 L802.6 293.4 L803.3 293.8 L804.0 292.1 L804.7 290.4 L805.4 290.4 L806.1 290.9 L806.8 293.8 L807.5 296.4 L808.2 299.8 L808.9 303.3 L809.6 307.0 L810.3 311.6 L811.0 318.4 L811.7 334.4 L812.4 347.4 L813.1 349.9 L813.8 352.7 L814.5 354.6 L815.2 355.7 L815.9 356.7 L816.6 359.5 L817.3 362.7 L818.0 359.7 L818.7 356.4 L819.4 354.3 L820.1 352.2 L820.8 353.4 L821.5 356.5 L822.2 358.5 L822.9 357.7 L823.6 356.5 L824.3 356.0 L825.0 355.6 L825.7 355.1 L826.4 352.6 L827.1 350.5 L827.8 349.5 L828.5 348.8 L829.2 350.6 L829.9 353.9 L830.6 356.3 L831.3 357.8 L832.0 360.0 L832.7 358.7 L833.4 356.6 L834.1 355.1 L834.8 354.0 L835.5 353.3 L836.2 354.8 L836.9 357.0 L837.6 357.8 L838.3 358.6 L839.0 359.5 L839.7 360.1 L840.4 361.4 L841.1 363.9 L841.8 366.6 L842.5 369.4 L843.2 372.2 L843.9 376.3 L844.6 375.6 L845.3 366.4 L846.0 360.0 L846.7 357.9 L847.4 356.5 L848.1 357.9 L848.8 359.1 L849.5 360.4 L850.2 361.0 L850.9 361.5 L851.6 363.5 L852.3 366.6 L853.0 369.0 L853.7 371.2 L854.4 373.4 L855.1 374.9 L855.8 372.8 L856.5 368.3 L857.2 370.6 L857.9 374.3 L858.6 376.8 L859.3 378.8 L860.0 380.5 L860.7 381.3 L861.4 381.8 L862.1 382.4 L862.8 381.5 L863.5 377.8 L864.2 374.7 L864.9 372.6 L865.6 371.4 L866.3 369.2 L867.0 368.1 L867.7 365.6 L868.4 364.0 L869.1 362.2 L869.8 361.0 L870.5 359.6 L871.2 358.9 L871.9 358.5 L872.6 358.1 L873.3 358.3 L874.0 357.5 L874.7 358.7 L875.4 361.6 L876.1 364.4 L876.8 367.0 L877.5 366.8 L878.2 363.4 L878.9 360.1 L879.6 358.0 L880.3 356.7 L881.0 356.2 L881.7 356.5 L882.4 356.9 L883.1 357.4 L883.8 358.3 L884.5 360.5 L885.2 362.8 L885.9 365.1 L886.6 367.9 L887.3 369.4 L888.0 372.3 L888.7 375.0 L889.4 377.2 L890.1 380.4 L890.8 382.7 L891.5 384.5 L892.2 386.0 L892.9 385.7 L893.6 384.5 L894.3 383.6 L895.0 386.3 L895.7 388.8 L896.4 390.4 L897.1 392.8 L897.8 393.9 L898.5 393.1 L899.2 392.5 L899.9 393.7 L900.6 396.4 L901.3 398.6 L902.0 401.0 L902.7 403.3 L903.4 405.6 L904.1 408.0 L904.8 410.5 L905.5 413.6 L906.2 416.0 L906.9 417.1 L907.6 405.7 L908.3 384.5 L909.0 372.4 L909.7 371.0 L910.4 370.0 L911.1 374.7 L911.8 382.3 L912.5 387.5 L913.2 392.3 L913.9 391.2 L914.6 389.9 L915.3 388.8 L916.0 387.7 L916.7 389.3 L917.4 391.6 L918.1 394.1 L918.8 396.8 L919.5 398.4 L920.2 398.3 L920.9 397.3 L921.6 396.7 L922.3 395.5 L923.0 394.5 L923.7 394.1 L924.4 396.4 L925.1 399.0 L925.8 400.4 L926.5 401.4 L927.2 402.5 L927.9 403.6 L928.6 404.0 L929.3 405.5 L930.0 407.1 L930.7 408.1 L931.4 408.8 L932.1 409.5 L932.8 409.0 L933.5 407.4 L934.2 406.1 L934.9 405.6 L935.6 404.9 L936.3 404.6 L937.0 406.4 L937.7 407.7 L938.4 406.3 L939.1 403.2 L939.8 400.0 L940.5 399.0 L941.2 399.0 L941.9 402.9 L942.6 406.1 L943.3 408.2 L944.0 409.8 L944.7 408.2 L945.4 406.6 L946.1 405.5 L946.8 406.7 L947.5 407.3 L948.2 408.2 L948.9 409.1 L949.6 410.1 L950.3 408.9 L951.0 408.3 L951.7 408.3 L952.4 409.2 L953.1 409.8 L953.8 410.4 L954.5 411.1 L955.2 411.2 L955.9 411.6 L956.6 412.4 L957.3 412.9 L958.0 414.5 L958.7 415.4 L959.4 416.6 L960.1 416.8 L960.8 416.7 L961.5 416.4 L962.2 415.6 L962.9 414.6 L963.6 413.5 L964.3 413.2 L965.0 413.1 L965.7 413.9 L966.4 414.5 L967.1 415.6 L967.8 414.0 L968.5 412.7 L969.2 411.8 L969.9 411.3 L970.6 409.8 L971.3 409.1 L972.0 408.6 L972.7 408.1 L973.4 408.5 L974.1 409.3 L974.8 410.7 L975.5 411.2 L976.2 411.7 L976.9 411.1 L977.6 412.0 L978.3 412.5 L979.0 412.3 L979.7 413.4 L980.4 415.0 L981.1 415.8 L981.8 416.4 L982.5 415.3 L983.2 414.0 L983.9 412.8 L984.6 411.6 L985.3 409.8 L986.0 409.1 L986.7 407.8 L987.4 407.8 L988.1 409.3 L988.8 410.0 L989.2 409.0" fill="none" stroke="#7ccbd5" stroke-width="2.6" stroke-linejoin="round" stroke-linecap="round"/>
<path d="M750.3 116 L750.7 190 L751.6 172 L753.6 154" fill="none" stroke="#7ccbd5" stroke-width="2" stroke-linejoin="round"/>
<path d="M297.2 405.2 L297.9 405.6 L298.6 405.3 L299.3 405.4 L300.0 405.3 L300.7 403.5 L301.4 402.2 L302.1 401.2 L302.8 399.9 L303.5 401.6 L304.2 402.7 L304.9 406.3 L305.6 409.8 L306.3 413.5 L307.0 415.4 L307.7 416.9 L308.4 418.2 L309.1 418.1 L309.8 418.6 L310.5 420.5 L311.2 420.0 L311.9 419.2 L312.6 419.0 L313.3 419.3 L314.0 418.5 L314.7 417.8 L315.4 418.9 L316.1 419.9 L316.8 419.0 L317.5 417.1 L318.2 416.1 L318.9 414.4 L319.6 412.3 L320.3 410.5 L321.0 410.3 L321.7 410.0 L322.4 409.6 L323.1 409.3 L323.8 409.8 L324.5 410.0 L325.2 410.9 L325.9 410.4 L326.6 410.2 L327.3 409.0 L328.0 408.3 L328.7 409.1 L329.4 408.4 L330.1 408.4 L330.8 407.3 L331.5 407.1 L332.2 406.4 L332.9 406.0 L333.6 405.4 L334.3 406.4 L335.0 406.9 L335.7 408.3 L336.4 408.1 L337.1 407.8 L337.8 407.1 L338.5 406.3 L339.2 404.6 L339.9 401.4 L340.6 398.9 L341.3 396.6 L342.0 397.3 L342.7 398.7 L343.4 399.4 L344.1 399.0 L344.8 398.9 L345.5 398.2 L346.2 399.4 L346.9 399.8 L347.6 400.5 L348.3 400.5 L349.0 399.7 L349.7 399.9 L350.4 399.6 L351.1 400.1 L351.8 401.1 L352.5 402.3 L353.2 403.5 L353.9 404.9 L354.6 405.4 L355.3 405.1 L356.0 403.8 L356.7 402.7 L357.4 402.3 L358.1 401.4 L358.8 401.5 L359.5 401.9 L360.2 402.3 L360.9 401.4 L361.6 400.8 L362.3 400.4 L363.0 400.1 L363.7 399.2 L364.4 398.6 L365.1 398.8 L365.8 399.6 L366.5 399.8 L367.2 399.2 L367.9 398.6 L368.6 398.7 L369.3 399.1 L370.0 399.5 L370.7 400.1 L371.4 399.7 L372.1 398.9 L372.8 398.7 L373.5 399.0 L374.2 399.9 L374.9 400.7 L375.6 401.4 L376.3 402.0 L377.0 401.5 L377.7 401.3 L378.4 401.2 L379.1 400.9 L379.8 400.1 L380.5 399.1 L381.2 398.3 L381.9 396.4 L382.6 394.7 L383.3 392.1 L384.0 391.8 L384.7 391.6 L385.4 391.4 L386.1 391.0 L386.8 390.5 L387.5 390.0 L388.2 389.2 L388.9 389.3 L389.6 388.4 L390.3 388.8 L391.0 388.6 L391.7 388.6 L392.4 388.8 L393.1 389.3 L393.8 388.5 L394.5 388.8 L395.2 388.5 L395.9 389.9 L396.6 390.4 L397.3 390.4 L398.0 390.9 L398.7 390.7 L399.4 390.8 L400.1 390.6 L400.8 389.6 L401.5 388.8 L402.2 387.1 L402.9 386.2 L403.6 385.3 L404.3 384.1 L405.0 383.9 L405.7 383.8 L406.4 383.7 L407.1 383.1 L407.8 382.7 L408.5 383.1 L409.2 383.2 L409.9 383.4 L410.6 384.0 L411.3 382.4 L412.0 381.6 L412.7 381.2 L413.4 380.1 L414.1 378.9 L414.8 378.3 L415.5 376.8 L416.2 375.4 L416.9 374.8 L417.6 375.7 L418.3 376.8 L419.0 378.4 L419.7 376.7 L420.4 375.5 L421.1 373.5 L421.8 373.6 L422.5 372.8 L423.2 372.3 L423.9 370.7 L424.6 369.3 L425.3 367.8 L426.0 365.1 L426.7 362.3 L427.4 359.8 L428.1 359.6 L428.8 358.3 L429.5 357.7 L430.2 355.6 L430.9 353.6 L431.6 351.2 L432.3 349.9 L433.0 348.3 L433.7 347.1 L434.4 345.0 L435.1 346.2 L435.8 348.4 L436.5 350.6 L437.2 352.7 L437.9 354.4 L438.6 355.9 L439.3 352.6 L440.0 348.8 L440.7 346.0 L441.4 345.3 L442.1 344.9 L442.8 342.2 L443.5 339.2 L444.2 336.3 L444.9 334.2 L445.6 332.9 L446.3 332.8 L447.0 332.0 L447.7 335.5 L448.4 338.5 L449.1 341.0 L449.8 346.2 L450.5 351.4 L451.2 350.4 L451.9 346.1 L452.6 345.0 L453.3 346.6 L454.0 347.7 L454.7 347.6 L455.4 347.1 L456.1 345.8 L456.8 347.0 L457.5 349.4 L458.2 351.9 L458.9 354.6 L459.6 357.1 L460.3 356.4 L461.0 353.8 L461.7 352.8 L462.4 354.8 L463.1 356.3 L463.8 357.0 L464.5 355.5 L465.2 354.1 L465.9 352.9 L466.6 350.8 L467.3 349.0 L468.0 345.9 L468.7 344.5 L469.4 343.6 L470.1 345.2 L470.8 346.2 L471.5 344.5 L472.2 340.4 L472.9 336.4 L473.6 336.2 L474.3 338.3 L475.0 341.8 L475.7 346.3 L476.4 350.6 L477.1 352.5 L477.8 354.1 L478.5 354.9 L479.2 353.6 L479.9 352.3 L480.6 351.8 L481.3 353.3 L482.0 354.6 L482.7 357.2 L483.4 360.4 L484.1 363.4 L484.8 365.0 L485.5 365.8 L486.2 367.2 L486.9 368.2 L487.6 368.5 L488.3 368.5 L489.0 369.8 L489.7 370.7 L490.4 372.3 L491.1 373.1 L491.8 370.4 L492.5 366.9 L493.2 363.1 L493.9 360.2 L494.6 361.9 L495.3 363.0 L496.0 364.5 L496.7 365.6 L497.4 367.4 L498.1 369.8 L498.8 377.8 L499.5 386.1 L500.2 392.4 L500.9 387.4 L501.6 382.2 L502.3 381.6 L503.0 380.9 L503.7 382.0 L504.4 381.4 L505.1 379.7 L505.8 378.8 L506.5 378.2 L507.2 377.9 L507.9 378.7 L508.6 379.7 L509.3 380.4 L510.0 381.4 L510.7 382.0 L511.4 383.0 L512.1 381.4 L512.8 379.5 L513.5 377.5 L514.2 376.4 L514.9 374.6 L515.6 372.8 L516.3 371.1 L517.0 369.5 L517.7 367.8 L518.4 366.0 L519.1 362.9 L519.8 359.8 L520.5 357.4 L521.2 354.8 L521.9 352.5 L522.6 349.5 L523.3 346.0 L524.0 343.5 L524.7 341.9 L525.4 340.9 L526.1 339.2 L526.8 335.3 L527.5 331.7 L528.2 327.3 L528.9 324.2 L529.6 322.0 L530.3 319.5 L531.0 318.4 L531.7 320.5 L532.4 322.0 L533.1 319.6 L533.8 317.7 L534.5 319.5 L535.2 323.0 L535.9 328.1 L536.6 330.3 L537.3 321.3 L538.0 318.3 L538.7 324.3 L539.4 325.7 L540.1 323.5 L540.8 323.0 L541.5 328.2 L542.2 323.2 L542.9 317.8 L543.6 316.2 L544.3 314.3 L545.0 310.6 L545.7 308.0 L546.4 304.2 L547.1 307.5 L547.8 308.5 L548.5 307.0 L549.2 307.6 L549.9 310.1 L550.6 310.7 L551.3 310.5 L552.0 313.1 L552.7 315.0 L553.4 317.7 L554.1 316.3 L554.8 313.0 L555.5 310.0 L556.2 308.1 L556.9 306.2 L557.6 303.6 L558.3 302.6 L559.0 305.2 L559.7 306.1 L560.4 305.1 L561.1 307.5 L561.8 310.2 L562.5 310.7 L563.2 309.7 L563.9 307.1 L564.6 307.5 L565.3 308.1 L566.0 308.1 L566.7 307.1 L567.4 305.8 L568.1 304.0 L568.8 301.7 L569.5 299.4 L570.2 297.6 L570.9 298.5 L571.6 300.0 L572.3 300.0 L573.0 300.3 L573.7 300.8 L574.4 303.7 L575.1 305.7 L575.8 307.4 L576.5 308.2 L577.2 308.4 L577.9 308.8 L578.6 308.2 L579.3 308.4 L580.0 311.9 L580.7 308.5 L581.4 304.7 L582.1 301.9 L582.8 298.9 L583.5 297.0 L584.2 297.7 L584.9 301.0 L585.6 311.7 L586.3 318.5 L587.0 323.0 L587.7 324.3 L588.4 317.4 L589.1 310.8 L589.8 304.8 L590.5 300.6 L591.2 298.8 L591.9 306.9 L592.6 298.2 L593.3 290.9 L594.0 292.5 L594.7 300.0 L595.4 307.6 L596.1 314.3 L596.8 319.9 L597.5 312.3 L598.2 303.6 L598.9 296.1 L599.6 293.3 L600.3 293.1 L601.0 292.7 L601.7 292.6 L602.4 291.4 L603.1 291.0 L603.8 285.9 L604.5 283.9 L605.2 284.3 L605.9 284.9 L606.6 283.6 L607.3 281.1 L608.0 278.6 L608.7 277.7 L609.4 276.8 L610.1 276.7 L610.8 275.3 L611.5 273.9 L612.2 272.4 L612.9 270.2 L613.6 267.5 L614.3 264.8 L615.0 258.1 L615.7 250.9 L616.4 243.2 L617.1 237.4 L617.8 232.4 L618.5 229.7 L619.2 226.9 L619.9 222.9 L620.6 219.0 L621.3 213.8 L622.0 209.9 L622.7 211.0 L623.4 210.3 L624.1 204.5 L624.8 198.6 L625.5 195.2 L626.2 191.3 L626.9 189.7 L627.6 188.7 L628.3 191.9 L629.0 200.6 L629.7 205.9 L630.4 210.7 L631.1 213.0 L631.8 214.6 L632.5 214.5 L633.2 212.4 L633.9 211.1 L634.6 207.8 L635.3 201.5 L636.0 202.7 L636.7 204.5 L637.4 203.5 L638.1 201.1 L638.8 200.6 L639.5 202.0 L640.2 202.6 L640.9 201.3 L641.6 198.5 L642.3 196.7 L643.0 196.4 L643.7 197.0 L644.4 202.9 L645.1 201.8 L645.8 194.2 L646.5 188.8 L647.2 184.4 L647.9 180.7 L648.6 178.9 L649.3 176.3 L650.0 166.1 L650.7 152.2 L651.4 130.9 L652.1 134.6 L652.8 147.3 L653.5 162.2 L654.2 159.4 L654.9 150.2 L655.6 152.1 L656.3 153.7 L657.0 132.3 L657.7 113.2 L658.4 112.1 L659.1 114.2 L659.8 118.4 L660.5 139.9 L661.2 154.6 L661.9 165.2 L662.6 179.7 L663.3 193.8 L664.0 203.0 L664.7 197.4 L665.4 192.3 L666.1 189.7 L666.8 188.2 L667.5 183.3 L668.2 176.6 L668.9 182.0 L669.6 187.7 L670.3 182.3 L671.0 175.4 L671.7 171.5 L672.4 168.8 L673.1 171.2 L673.8 179.3 L674.5 187.8 L675.2 177.4 L675.9 168.2 L676.6 162.2 L677.3 157.4 L678.0 156.0 L678.7 155.8 L679.4 157.7 L680.1 163.1 L680.8 167.1 L681.5 170.5 L682.2 174.3 L682.9 177.9 L683.6 182.3 L684.3 178.3 L685.0 175.3 L685.7 182.2 L686.4 189.5 L687.1 196.1 L687.8 194.6 L688.5 187.0 L689.2 195.1 L689.9 203.8 L690.6 230.1 L691.3 235.5 L692.0 231.7 L692.7 228.6 L693.4 235.1 L694.1 241.1 L694.8 243.4 L695.5 244.3 L696.2 245.3 L696.9 240.7 L697.6 235.6 L698.3 235.5 L699.0 239.4 L699.7 237.8 L700.4 223.3 L701.1 218.2 L701.8 212.5 L702.5 208.2 L703.2 204.2 L703.9 200.8 L704.6 203.0 L705.3 205.7 L706.0 206.0 L706.7 201.9 L707.4 197.3 L708.1 197.4 L708.8 199.5 L709.5 201.6 L710.2 199.7 L710.9 198.0 L711.6 197.9 L712.3 199.8 L713.0 201.0 L713.7 195.8 L714.4 190.5 L715.1 186.7 L715.8 185.1 L716.5 183.4 L717.2 183.6 L717.9 186.1 L718.6 188.4 L719.3 192.5 L720.0 196.0 L720.7 200.1 L721.4 203.7 L722.1 207.3 L722.8 209.2 L723.5 211.6 L724.2 214.4 L724.9 216.7 L725.6 219.0 L726.3 214.7 L727.0 210.4 L727.7 207.8 L728.4 206.6 L729.1 205.8 L729.8 208.9 L730.5 212.7 L731.2 218.2 L731.9 227.0 L732.6 235.9 L733.3 246.0 L734.0 249.8 L734.7 245.6 L735.4 242.2 L736.1 244.0 L736.8 246.0 L737.5 245.4 L738.2 240.9 L738.9 235.4 L739.6 239.0 L740.3 244.6 L741.0 248.2 L741.7 246.0 L742.4 243.7 L743.1 244.2 L743.8 245.9 L744.5 248.0 L745.2 248.6 L745.9 249.6 L746.6 248.9 L747.3 245.9 L748.0 243.7 L748.7 239.0 L749.4 234.4 L750.1 229.9 L750.8 224.6 L751.5 220.1 L752.2 216.3 L752.9 212.0 L753.6 206.9 L754.3 204.7 L755.0 208.5 L755.7 214.2 L756.4 218.3 L757.1 221.2 L757.8 222.8 L758.5 223.5 L759.2 224.8 L759.9 226.7 L760.6 229.0 L761.3 230.5 L762.0 229.1 L762.7 228.1 L763.4 227.9 L764.1 230.2 L764.8 233.0 L765.5 234.8 L766.2 235.8 L766.9 236.0 L767.6 236.9 L768.3 236.9 L769.0 236.8 L769.7 236.6 L770.4 239.2 L771.1 240.6 L771.8 242.6 L772.5 243.8 L773.2 244.3 L773.9 245.4 L774.6 256.2 L775.3 266.8 L776.0 276.3 L776.7 282.1 L777.4 268.2 L778.1 261.6 L778.8 259.5 L779.5 259.7 L780.2 263.9 L780.9 264.5 L781.6 260.5 L782.3 256.3 L783.0 250.6 L783.7 244.2 L784.4 239.7 L785.1 235.4 L785.8 234.9 L786.5 239.0 L787.2 241.5 L787.9 239.8 L788.6 237.1 L789.3 232.6 L790.0 228.2 L790.7 222.8 L791.4 217.2 L792.1 219.1 L792.8 220.8 L793.5 221.6 L794.2 222.7 L794.9 222.6 L795.6 221.7 L796.3 221.9 L797.0 224.4 L797.7 225.9 L798.4 224.4 L799.1 223.6 L799.8 227.1 L800.5 231.0 L801.2 235.0 L801.9 237.7 L802.6 240.3 L803.3 241.7 L804.0 241.7 L804.7 237.0 L805.4 231.9 L806.1 229.7 L806.8 228.4 L807.5 234.6 L808.2 242.1 L808.9 245.0 L809.6 248.2 L810.3 249.3 L811.0 249.5 L811.7 248.8 L812.4 250.6 L813.1 251.7 L813.8 253.0 L814.5 255.1 L815.2 257.1 L815.9 261.6 L816.6 265.6 L817.3 269.3 L818.0 270.7 L818.7 264.6 L819.4 255.4 L820.1 258.3 L820.8 264.0 L821.5 266.6 L822.2 268.5 L822.9 268.3 L823.6 267.7 L824.3 267.0 L825.0 267.2 L825.7 266.5 L826.4 262.3 L827.1 257.8 L827.8 255.4 L828.5 252.8 L829.2 253.5 L829.9 255.6 L830.6 257.9 L831.3 261.7 L832.0 265.2 L832.7 268.1 L833.4 272.0 L834.1 268.2 L834.8 264.4 L835.5 263.6 L836.2 265.5 L836.9 266.7 L837.6 267.4 L838.3 268.2 L839.0 270.9 L839.7 272.4 L840.4 274.5 L841.1 275.9 L841.8 278.0 L842.5 280.2 L843.2 283.3 L843.9 286.8 L844.6 286.6 L845.3 277.8 L846.0 273.8 L846.7 274.0 L847.4 274.7 L848.1 275.8 L848.8 276.2 L849.5 276.6 L850.2 277.1 L850.9 276.9 L851.6 279.7 L852.3 281.9 L853.0 284.5 L853.7 287.4 L854.4 292.0 L855.1 295.9 L855.8 294.7 L856.5 289.8 L857.2 290.8 L857.9 293.2 L858.6 295.4 L859.3 298.1 L860.0 299.5 L860.7 301.4 L861.4 303.4 L862.1 304.9 L862.8 305.6 L863.5 306.7 L864.2 303.2 L864.9 299.8 L865.6 296.7 L866.3 294.9 L867.0 291.9 L867.7 289.6 L868.4 289.2 L869.1 290.8 L869.8 290.0 L870.5 286.5 L871.2 283.7 L871.9 282.8 L872.6 281.2 L873.3 283.8 L874.0 286.1 L874.7 285.0 L875.4 281.9 L876.1 283.7 L876.8 286.4 L877.5 289.4 L878.2 287.0 L878.9 285.1 L879.6 282.6 L880.3 280.1 L881.0 278.3 L881.7 277.7 L882.4 276.6 L883.1 275.9 L883.8 274.6 L884.5 277.2 L885.2 280.7 L885.9 283.2 L886.6 286.0 L887.3 287.9 L888.0 291.3 L888.7 294.1 L889.4 296.8 L890.1 298.8 L890.8 302.4 L891.5 304.7 L892.2 307.7 L892.9 310.2 L893.6 309.4 L894.3 306.0 L895.0 306.4 L895.7 309.8 L896.4 314.3 L897.1 316.2 L897.8 318.5 L898.5 316.8 L899.2 314.3 L899.9 314.4 L900.6 317.3 L901.3 319.5 L902.0 322.4 L902.7 324.6 L903.4 327.2 L904.1 329.3 L904.8 333.0 L905.5 336.6 L906.2 338.8 L906.9 338.7 L907.6 330.5 L908.3 310.2 L909.0 279.0 L909.7 278.5 L910.4 277.6 L911.1 284.8 L911.8 296.5 L912.5 304.1 L913.2 304.3 L913.9 299.7 L914.6 297.7 L915.3 294.9 L916.0 285.0 L916.7 282.1 L917.4 286.2 L918.1 291.9 L918.8 297.3 L919.5 299.6 L920.2 300.1 L920.9 296.9 L921.6 293.6 L922.3 291.1 L923.0 289.3 L923.7 294.0 L924.4 297.5 L925.1 297.8 L925.8 299.0 L926.5 302.8 L927.2 307.2 L927.9 309.2 L928.6 311.0 L929.3 312.4 L930.0 312.4 L930.7 312.0 L931.4 312.1 L932.1 313.0 L932.8 314.9 L933.5 315.3 L934.2 314.3 L934.9 313.7 L935.6 312.8 L936.3 312.7 L937.0 312.6 L937.7 311.8 L938.4 309.6 L939.1 308.4 L939.8 306.2 L940.5 302.3 L941.2 298.7 L941.9 297.5 L942.6 295.7 L943.3 298.5 L944.0 301.6 L944.7 303.1 L945.4 299.8 L946.1 298.4 L946.8 298.8 L947.5 299.6 L948.2 299.8 L948.9 300.6 L949.6 301.8 L950.3 301.0 L951.0 300.1 L951.7 300.3 L952.4 301.3 L953.1 301.9 L953.8 302.0 L954.5 301.6 L955.2 301.8 L955.9 303.4 L956.6 305.3 L957.3 307.9 L958.0 309.6 L958.7 311.2 L959.4 311.7 L960.1 311.3 L960.8 310.4 L961.5 309.8 L962.2 309.7 L962.9 309.0 L963.6 308.9 L964.3 308.5 L965.0 306.6 L965.7 303.5 L966.4 303.4 L967.1 304.4 L967.8 305.4 L968.5 303.2 L969.2 300.4 L969.9 298.5 L970.6 295.8 L971.3 292.9 L972.0 291.5 L972.7 290.6 L973.4 288.9 L974.1 288.8 L974.8 289.0 L975.5 292.2 L976.2 294.8 L976.9 297.2 L977.6 299.0 L978.3 300.4 L979.0 300.2 L979.7 299.8 L980.4 299.5 L981.1 300.0 L981.8 301.3 L982.5 302.3 L983.2 303.9 L983.9 305.4 L984.6 306.2 L985.3 304.6 L986.0 302.8 L986.7 300.2 L987.4 302.1 L988.1 303.5 L988.8 303.5 L989.2 303.6" fill="none" stroke="#2478a5" stroke-width="2.8" stroke-linejoin="round" stroke-linecap="round"/>
</g>
<path d="M298.4 294.1 H989.5" stroke="#b20000" stroke-width="2.4" stroke-dasharray="9.6 7.2" fill="none"/>
<path d="M298.4 353.1 H989.5" stroke="#7e7f89" stroke-width="2.4" stroke-dasharray="9.6 7.2" fill="none"/>
<path d="M298.4 379.7 H989.5" stroke="#179a52" stroke-width="2.4" stroke-dasharray="9.6 7.2" fill="none"/>
<g fill="#ff0000"><path d="M300.5 415.3 L294.3 427.3 L306.7 427.3 Z"/><path d="M335.0 415.3 L328.8 427.3 L341.2 427.3 Z"/><path d="M369.5 415.3 L363.3 427.3 L375.7 427.3 Z"/><path d="M403.5 415.3 L397.3 427.3 L409.7 427.3 Z"/><path d="M438.5 415.3 L432.3 427.3 L444.7 427.3 Z"/><path d="M473.0 415.3 L466.8 427.3 L479.2 427.3 Z"/><path d="M509.0 415.3 L502.8 427.3 L515.2 427.3 Z"/><path d="M542.6 415.3 L536.4 427.3 L548.8 427.3 Z"/><path d="M577.6 415.3 L571.4 427.3 L583.8 427.3 Z"/><path d="M612.4 415.3 L606.2 427.3 L618.6 427.3 Z"/><path d="M624.5 415.3 L618.3 427.3 L630.7 427.3 Z"/><path d="M645.8 415.3 L639.5 427.3 L652.0 427.3 Z"/><path d="M680.5 415.3 L674.3 427.3 L686.7 427.3 Z"/><path d="M715.5 415.3 L709.3 427.3 L721.7 427.3 Z"/><path d="M750.3 415.3 L744.1 427.3 L756.5 427.3 Z"/><path d="M784.0 415.3 L777.8 427.3 L790.2 427.3 Z"/><path d="M818.6 415.3 L812.4 427.3 L824.8 427.3 Z"/><path d="M853.5 415.3 L847.3 427.3 L859.7 427.3 Z"/><path d="M888.3 415.3 L882.1 427.3 L894.5 427.3 Z"/><path d="M923.1 415.3 L916.9 427.3 L929.3 427.3 Z"/><path d="M957.9 415.3 L951.7 427.3 L964.1 427.3 Z"/></g>
<g font-family="'DejaVu Sans','Liberation Sans',sans-serif" font-size="12.9" font-weight="200" fill="#2e2e2e">
<g letter-spacing="0">
<text x="280.5" y="117" text-anchor="end">68</text>
<text x="280.5" y="185.7" text-anchor="end">57</text>
<text x="280.5" y="265.7" text-anchor="end">44</text>
<text x="280.5" y="346.4" text-anchor="end">31</text>
<text x="280.5" y="427.0" text-anchor="end">18</text>
</g><g letter-spacing="0.22">
<text x="1007.5" y="117" text-anchor="start">31,780</text>
<text x="1007.5" y="195" text-anchor="start">25,425</text>
<text x="1007.5" y="273" text-anchor="start">19,070</text>
<text x="1007.5" y="350.5" text-anchor="start">12,715</text>
<text x="1007.5" y="428" text-anchor="start">6,360</text>
</g><g letter-spacing="0.5">
<text x="304.4" y="445.3" text-anchor="middle">16-01-01</text>
<text x="442.5" y="445.3" text-anchor="middle">18-01-01</text>
<text x="580.7" y="445.3" text-anchor="middle">20-01-01</text>
<text x="718.7" y="445.3" text-anchor="middle">22-01-01</text>
<text x="856.8" y="445.3" text-anchor="middle">24-01-01</text>
</g>
</g>
<g font-family="'Liberation Sans','Noto Sans CJK SC',sans-serif" font-size="14.4" font-weight="bold" fill="#333">
<circle cx="308.4" cy="480.6" r="6.6" fill="#7fcdd7"/><text x="325.2" y="485.6" fill="#262626">市盈率TTM</text>
<path d="M422.4 480.6 h19.2" stroke="#2478a5" stroke-width="2.4"/><text x="448.8" y="485.6" fill="#262626">指数点位</text>
<path d="M555.5 474.6 l6.2 10.6 h-12.4 Z" fill="#ff0000"/><text x="572.3" y="485.6" fill="#262626">调仓标志</text>
<circle cx="679.1" cy="480.6" r="6.6" fill="#ccc"/><text x="695.9" y="485.6" fill="#ccc">分位点</text>
<path d="M793.0 480.6 h19.2" stroke="#b20000" stroke-width="2.4" stroke-dasharray="9.6 7.2"/><text x="819.4" y="485.6" fill="#262626">危险值</text>
<path d="M916.6 480.6 h19.2" stroke="#7e7f89" stroke-width="2.4" stroke-dasharray="9.6 7.2"/><text x="943.0" y="485.6" fill="#262626">中位数</text>
<path d="M298.8 501.8 h19.2" stroke="#179a52" stroke-width="2.4" stroke-dasharray="9.6 7.2"/><text x="325.2" y="506.8" fill="#262626">机会值</text>
<path d="M422.4 501.8 h19.2" stroke="#ccc" stroke-width="2.4" stroke-dasharray="9.6 7.2"/><text x="448.8" y="506.8" fill="#ccc">标准差<tspan letter-spacing="1.1">(+1)</tspan></text>
<path d="M545.9 501.8 h19.2" stroke="#ccc" stroke-width="2.4" stroke-dasharray="9.6 7.2"/><text x="572.3" y="506.8" fill="#ccc">平均值</text>
<path d="M669.5 501.8 h19.2" stroke="#ccc" stroke-width="2.4" stroke-dasharray="9.6 7.2"/><text x="695.9" y="506.8" fill="#ccc">标准差<tspan letter-spacing="1.1">(-1)</tspan></text>
</g>
<rect x="8.5" y="109.9" width="249.2" height="54" fill="none" stroke="#fc2a0c" stroke-width="5"/>
</svg>
</body></html>
